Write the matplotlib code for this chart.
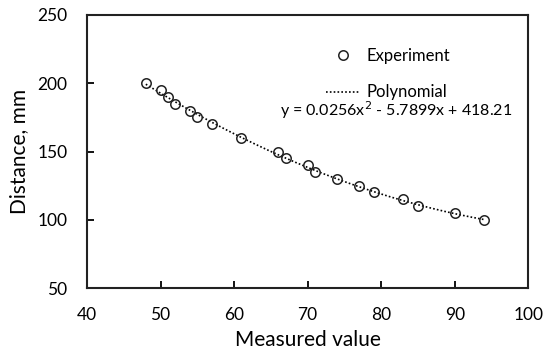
import numpy as np
import matplotlib
matplotlib.use("Agg")
import matplotlib.pyplot as plt

plt.rcParams['font.family'] = ['Lato', 'DejaVu Sans']

# measured points
measured = [48, 50, 51, 52, 54, 55, 57, 61, 66, 67, 70, 71, 74, 77, 79, 83, 85, 90, 94]
distance = [200, 195, 190, 185, 180, 175, 170, 160, 150, 145, 140, 135, 130, 125, 120, 115, 110, 105, 100]
# trendline coefficients (as printed on the chart)
coef = [0.0256, -5.7899, 418.21]

fig = plt.figure(figsize=(5.45, 3.53), dpi=100)
ax = fig.add_axes([0.1596, 0.184, 0.8097, 0.7736])

xf = np.linspace(min(measured), max(measured), 200)
ax.plot(xf, np.polyval(coef, xf), color="black", lw=1.2, ls=(0, (1, 1.3)), label="Polynomial")
ax.plot(measured, distance, "o", mfc="none", mec="#222222", mew=1.1, ms=6.8, ls="none",
        label="Experiment")

ax.set_xlim(40, 100)
ax.set_ylim(50, 250)
ax.set_xticks(range(40, 101, 10))
ax.set_yticks(range(50, 251, 50))
ax.tick_params(direction="in", length=5, width=1.3, labelsize=12.5)
ax.tick_params(axis="x", pad=14)
ax.tick_params(axis="y", pad=14)
for s in ax.spines.values():
    s.set_linewidth(1.5)
    s.set_color("#222222")
ax.set_xlabel("Measured value", fontsize=15, labelpad=5)
ax.set_ylabel("Distance, mm", fontsize=15, labelpad=6)

h, l = ax.get_legend_handles_labels()
leg = ax.legend(h[::-1], l[::-1], loc="upper left", bbox_to_anchor=(0.527, 0.905), borderaxespad=0,
                frameon=False, fontsize=12, handlelength=2.0, handletextpad=0.42, labelspacing=1.25)
ax.text(0.70, 0.652, r"y = 0.0256x$^2$ - 5.7899x + 418.21", transform=ax.transAxes,
        ha="center", va="center", fontsize=11.5)

fig.savefig("out.png", dpi=100)
